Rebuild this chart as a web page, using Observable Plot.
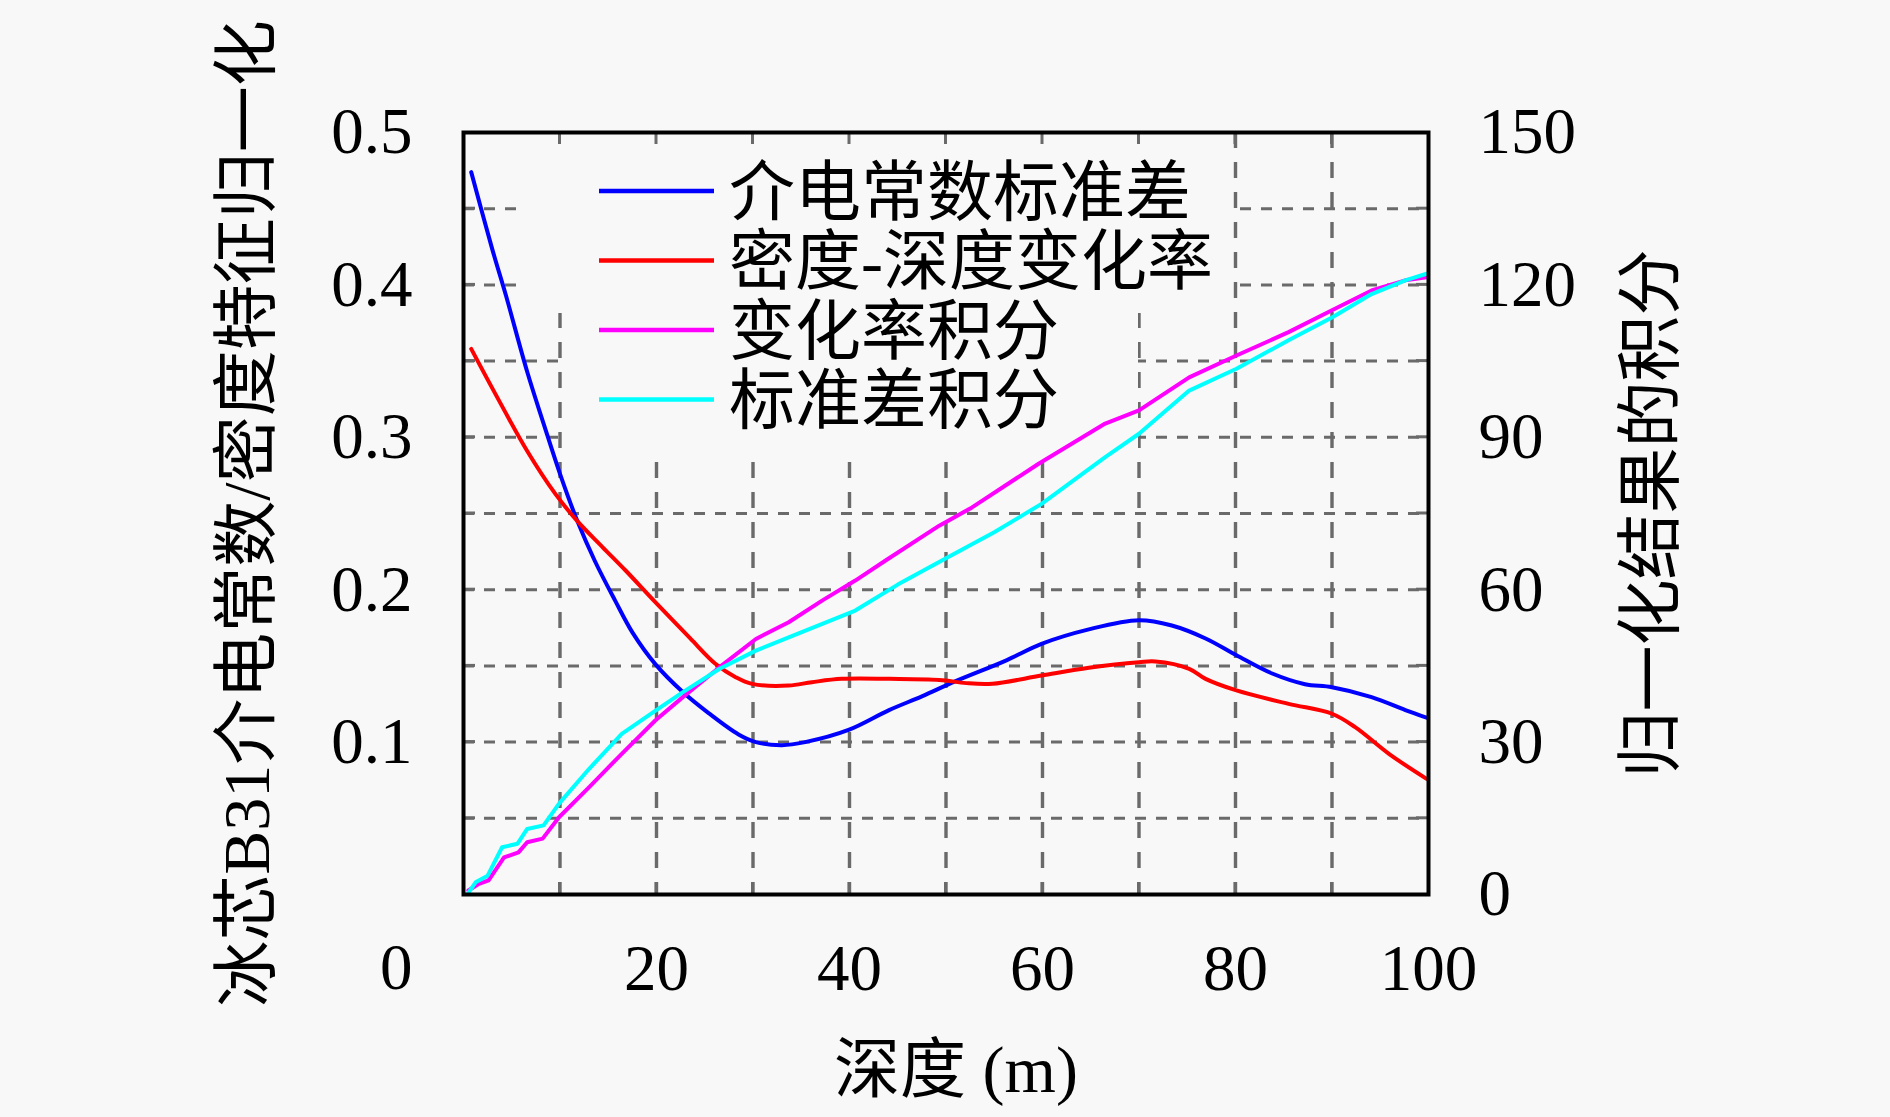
<!DOCTYPE html>
<html>
<head>
<meta charset="utf-8">
<script src="https://cdn.jsdelivr.net/npm/d3@7"></script>
<script src="https://cdn.jsdelivr.net/npm/@observablehq/plot@0.6"></script>
<style>
html, body { margin: 0; padding: 0; background: #f8f8f8; overflow: hidden; }
</style>
</head>
<body>
<div id="chart"></div>
<script>
// ---- data ----
const seriesNames = ["介电常数标准差", "密度-深度变化率", "变化率积分", "标准差积分"];
const seriesColors = ["#0000ff", "#ff0000", "#ff00ff", "#00ffff"];

// 介电常数标准差 (left axis)
const depthStd = [0.8, 3.0, 4.4, 6.6, 8.3, 10.0, 11.8, 13.6, 15.7, 17.5, 19.9, 22.7, 25.4, 28.5, 30.3, 33.0, 35.4, 39.9, 44.1, 47.5, 51.0, 56.2, 59.9, 64.8, 70.0, 73.4, 76.9, 80.1, 83.8, 87.2, 90.0, 94.1, 97.6, 99.8];
const valueStd = [0.474, 0.423, 0.393, 0.343, 0.309, 0.276, 0.245, 0.219, 0.193, 0.172, 0.151, 0.133, 0.119, 0.105, 0.100, 0.098, 0.100, 0.108, 0.121, 0.130, 0.140, 0.1535, 0.1645, 0.174, 0.180, 0.1765, 0.168, 0.157, 0.145, 0.138, 0.136, 0.1295, 0.121, 0.116];

// 密度-深度变化率 (left axis)
const depthRate = [0.8, 3.3, 6.6, 9.5, 11.8, 14.4, 16.8, 19.7, 23.5, 26.1, 28.2, 29.9, 33.7, 36.1, 39.2, 44.1, 49.3, 52.1, 54.8, 59.9, 64.8, 70.0, 71.7, 75.2, 76.9, 80.1, 85.5, 90.0, 92.4, 95.9, 99.8];
const valueRate = [0.358, 0.3285, 0.291, 0.263, 0.245, 0.228, 0.2126, 0.193, 0.168, 0.1514, 0.1426, 0.1382, 0.1371, 0.1393, 0.1415, 0.1415, 0.1408, 0.1387, 0.1383, 0.1437, 0.1488, 0.1524, 0.1529, 0.1481, 0.1415, 0.1339, 0.1251, 0.1186, 0.1098, 0.0923, 0.0759];

// 变化率积分 (right axis)
const depthRateInt = [0.5, 1.6, 2.6, 4.2, 5.7, 6.6, 8.2, 9.9, 13.0, 16.4, 19.9, 22.7, 26.5, 30.3, 33.7, 37.2, 40.6, 43.7, 49.3, 52.7, 59.6, 66.5, 70.0, 75.2, 80.1, 85.5, 90.0, 94.1, 97.6, 99.8];
const valueRateInt = [0.8, 2.1, 2.8, 7.3, 8.3, 10.3, 11.0, 15.2, 21.1, 27.7, 34.3, 38.8, 44.7, 50.3, 53.6, 57.9, 61.8, 65.7, 72.6, 76.2, 84.8, 92.7, 95.3, 101.8, 106.1, 110.7, 115.0, 118.9, 120.9, 121.5];

// 标准差积分 (right axis)
const depthStdInt = [0.5, 1.25, 2.5, 4.0, 5.6, 6.6, 8.3, 9.9, 13.0, 16.4, 19.9, 22.7, 26.5, 30.3, 33.7, 40.6, 45.0, 50.0, 55.0, 59.9, 66.5, 70.0, 75.2, 80.1, 85.5, 90.0, 94.1, 97.6, 99.8];
const valueStdInt = [0.3, 2.4, 3.7, 9.3, 10.0, 12.9, 13.6, 17.9, 24.7, 31.6, 36.2, 39.8, 44.4, 48.0, 50.6, 55.9, 61.0, 66.2, 71.3, 76.9, 86.1, 90.7, 99.2, 103.5, 109.1, 113.6, 118.2, 120.9, 122.2];

// axes / ticks
const xTickValues = [20, 40, 60, 80, 100];
const leftTickValues = [0.1, 0.2, 0.3, 0.4, 0.5];
const rightTickLabels = [0, 30, 60, 90, 120, 150];
const gridXValues = [10, 20, 30, 40, 50, 60, 70, 80, 90];
const gridYValues = [0.05, 0.10, 0.15, 0.20, 0.25, 0.30, 0.35, 0.40, 0.45];
const leftMax = 0.5, rightMax = 150;
const zeroLabel = ["0"];
const xTitle = ["深度 (m)"];
const leftTitle = ["冰芯B31介电常数/密度特征归一化"];
const rightTitle = ["归一化结果的积分"];

// ---- build rows ----
const toRows = (depths, values, name, factor) =>
  depths.map((d, i) => ({depth: d, value: values[i] * factor, series: name}));
const rowsStd = toRows(depthStd, valueStd, seriesNames[0], 1);
const rowsRate = toRows(depthRate, valueRate, seriesNames[1], 1);
const rowsRateInt = toRows(depthRateInt, valueRateInt, seriesNames[2], leftMax / rightMax);
const rowsStdInt = toRows(depthStdInt, valueStdInt, seriesNames[3], leftMax / rightMax);

const BG = "#f8f8f8";
const GRID = "#6a6a6a";
const FONT = '"Liberation Serif", "Noto Sans CJK SC", serif';

// legend mask (opaque boxes behind the legend)
function legendMask(index, scales, values, dim) {
  const L = dim.marginLeft, T = dim.marginTop;
  const g = d3.create("svg:g").attr("fill", BG);
  g.append("rect").attr("x", L + 55).attr("y", T + 2).attr("width", 714).attr("height", 179);
  g.append("rect").attr("x", L + 102).attr("y", T + 181).attr("width", 573).attr("height", 142);
  return g.node();
}

// inward tick marks on all four sides
function tickMarks(index, scales, values, dim) {
  const {width, height, marginLeft: L, marginRight: R, marginTop: T, marginBottom: B} = dim;
  const g = d3.create("svg:g").attr("stroke", GRID).attr("stroke-width", 3);
  for (const t of gridXValues) {
    const px = scales.x(t);
    g.append("line").attr("x1", px).attr("x2", px).attr("y1", T).attr("y2", T + 12);
    g.append("line").attr("x1", px).attr("x2", px).attr("y1", height - B - 12).attr("y2", height - B);
  }
  for (const t of gridYValues) {
    const py = scales.y(t);
    g.append("line").attr("x1", L).attr("x2", L + 12).attr("y1", py).attr("y2", py);
    g.append("line").attr("x1", width - R - 12).attr("x2", width - R).attr("y1", py).attr("y2", py);
  }
  return g.node();
}

// legend entries
function legendEntries(index, scales, values, dim) {
  const L = dim.marginLeft, T = dim.marginTop;
  const g = d3.create("svg:g");
  seriesNames.forEach((name, i) => {
    const yy = T + 59 + i * 69.5;
    g.append("line").attr("x1", L + 136).attr("x2", L + 251).attr("y1", yy).attr("y2", yy)
      .attr("stroke", seriesColors[i]).attr("stroke-width", 4.5);
    g.append("text").attr("x", L + 266).attr("y", yy).attr("dy", "0.36em")
      .attr("text-anchor", "start")
      .attr("font-size", 66).attr("fill", "black").text(name);
  });
  return g.node();
}

const lineOpts = (curve) => ({x: "depth", y: "value", strokeWidth: 4, curve});

const chart = Plot.plot({
  width: 1890,
  height: 1117,
  marginLeft: 463,
  marginRight: 462,
  marginTop: 132,
  marginBottom: 223,
  style: {background: BG, fontFamily: FONT, fontSize: "65px", color: "black"},
  x: {domain: [0, 100]},
  y: {domain: [0, leftMax]},
  marks: [
    Plot.ruleX(gridXValues, {stroke: GRID, strokeWidth: 3.4, strokeDasharray: "16,14"}),
    Plot.ruleY(gridYValues, {stroke: GRID, strokeWidth: 3, strokeDasharray: "11,10"}),
    legendMask,
    tickMarks,
    Plot.line(rowsStd, {...lineOpts("catmull-rom"), stroke: seriesColors[0]}),
    Plot.line(rowsRate, {...lineOpts("catmull-rom"), stroke: seriesColors[1]}),
    Plot.line(rowsRateInt, {...lineOpts("linear"), stroke: seriesColors[2]}),
    Plot.line(rowsStdInt, {...lineOpts("linear"), stroke: seriesColors[3]}),
    Plot.frame({stroke: "black", strokeWidth: 4}),
    Plot.axisX(xTickValues, {tickSize: 0, tickPadding: 49, label: null}),
    Plot.axisY(leftTickValues, {anchor: "left", tickSize: 0, tickPadding: 51, label: null, tickFormat: d3.format(".1f")}),
    Plot.axisY(rightTickLabels.map(v => v * leftMax / rightMax), {
      anchor: "right", tickSize: 0, tickPadding: 50, label: null,
      tickFormat: d => String(Math.round(d * rightMax / leftMax))
    }),
    Plot.text(zeroLabel, {frameAnchor: "bottom-left", text: d => d, dx: -51, dy: 74, textAnchor: "end", lineAnchor: "middle"}),
    legendEntries,
    Plot.text(xTitle, {frameAnchor: "bottom", text: d => d, dx: 10, dy: 176, fontSize: 66, textAnchor: "middle", lineAnchor: "middle"}),
    Plot.text(leftTitle, {frameAnchor: "left", text: d => d, dx: -216, rotate: -90, fontSize: 66, textAnchor: "middle", lineAnchor: "middle"}),
    Plot.text(rightTitle, {frameAnchor: "right", text: d => d, dx: 223, rotate: -90, fontSize: 66, textAnchor: "middle", lineAnchor: "middle"})
  ]
});
document.getElementById("chart").appendChild(chart);
</script>
</body>
</html>
